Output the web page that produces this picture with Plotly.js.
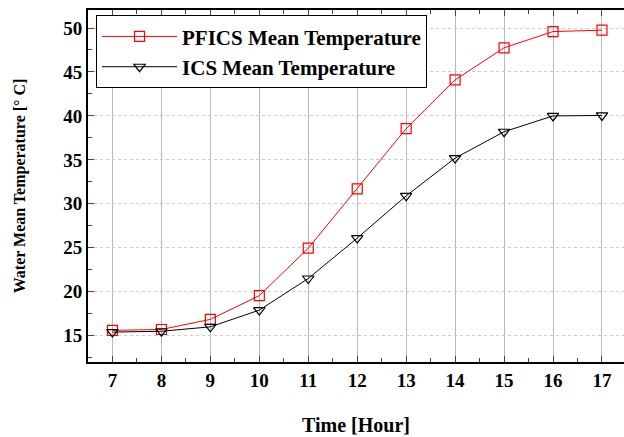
<!DOCTYPE html>
<html><head><meta charset="utf-8">
<script src="https://cdn.plot.ly/plotly-3.0.1.min.js"></script>
<style>html,body{margin:0;padding:0;background:#fff;}#chart{width:624px;height:437px;}</style>
</head><body><div id="chart"></div>
<script>
const hours = [7, 8, 9, 10, 11, 12, 13, 14, 15, 16, 17];
const pficsTemp = [15.6, 15.7, 16.85, 19.55, 24.95, 31.7, 38.55, 44.1, 47.75, 49.6, 49.75];
const icsTemp = [15.4, 15.5, 16.0, 17.9, 21.5, 26.1, 30.9, 35.2, 38.2, 40.0, 40.05];
const xTicks = [7, 8, 9, 10, 11, 12, 13, 14, 15, 16, 17];
const yTicks = [15, 20, 25, 30, 35, 40, 45, 50];

const serif = 'Liberation Serif, Times New Roman, serif';
const traces = [
  {x: hours, y: pficsTemp, name: 'PFICS Mean Temperature', mode: 'lines+markers',
   line: {color: '#ff0000', width: 1},
   marker: {symbol: 'square-open', size: 10, color: '#ff0000', line: {width: 1.2}}},
  {x: hours, y: icsTemp, name: 'ICS Mean Temperature', mode: 'lines+markers',
   line: {color: '#000000', width: 1},
   marker: {symbol: 'triangle-down-open', size: 10, color: '#000000', line: {width: 1.2}}}
];
const layout = {
  width: 624, height: 437,
  margin: {l: 88, r: 0, t: 10, b: 75},
  paper_bgcolor: '#fff', plot_bgcolor: '#fff',
  font: {family: serif, color: '#000', size: 18, weight: 'bold'},
  showlegend: true,
  legend: {x: 0.015, y: 0.985, xanchor: 'left', yanchor: 'top', bgcolor: '#fff',
    bordercolor: '#000', borderwidth: 1, itemwidth: 75,
    font: {family: serif, size: 21, weight: 'bold'}, tracegroupgap: 0},
  xaxis: {range: [6.5, 17.45], tickvals: xTicks, ticktext: xTicks.map(String),
    showline: true, linecolor: '#000', linewidth: 2, mirror: 'ticks',
    ticks: 'inside', ticklen: 6, tickcolor: '#444',
    showgrid: true, gridcolor: '#b8b8b8', gridwidth: 1,
    zeroline: false,
    minor: {dtick: 0.5, tick0: 0, ticks: 'inside', ticklen: 4, tickcolor: '#444', showgrid: false},
    tickfont: {family: serif, size: 19, weight: 'bold'},
    title: {text: 'Time [Hour]', font: {family: serif, size: 20, weight: 'bold'}, standoff: 28}},
  yaxis: {range: [12, 52.05], tickvals: yTicks, ticktext: yTicks.map(String),
    showline: true, linecolor: '#000', linewidth: 2, mirror: false,
    ticks: 'inside', ticklen: 6, tickcolor: '#444',
    showgrid: true, gridcolor: '#cccccc', gridwidth: 1, griddash: 'dot',
    zeroline: false,
    minor: {dtick: 2.5, tick0: 0, ticks: 'inside', ticklen: 4, tickcolor: '#444', showgrid: false},
    tickfont: {family: serif, size: 19, weight: 'bold'},
    title: {text: 'Water Mean Temperature [° C]', font: {family: serif, size: 16, weight: 'bold'}, standoff: 34}}
};
Plotly.newPlot('chart', traces, layout, {displayModeBar: false, staticPlot: true});
</script></body></html>
